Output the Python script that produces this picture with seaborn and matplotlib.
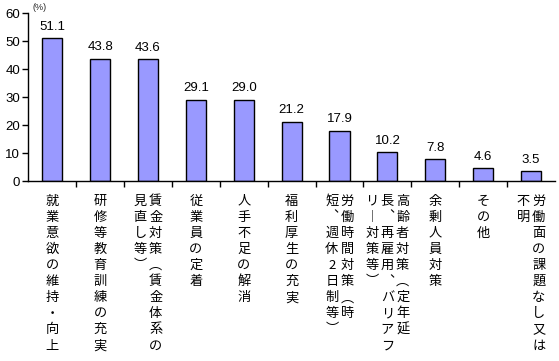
import matplotlib
matplotlib.use('Agg')
import matplotlib.pyplot as plt
import seaborn as sns
import pandas as pd

categories = [
    "就業意欲の維持・向上",
    "研修等教育訓練の充実",
    "賃金対策（賃金体系の見直し等）",
    "従業員の定着",
    "人手不足の解消",
    "福利厚生の充実",
    "労働時間対策（時短、週休2日制等）",
    "高齢者対策（定年延長、再雇用、バリアフリー対策等）",
    "余剰人員対策",
    "その他",
    "労働面の課題なし又は不明",
]
values = [51.1, 43.8, 43.6, 29.1, 29.0, 21.2, 17.9, 10.2, 7.8, 4.6, 3.5]
# vertical label columns, in reading order (right column first)
label_columns = [
    ["就業意欲の維持・向上"],
    ["研修等教育訓練の充実"],
    ["賃金対策︵賃金体系の", "見直し等︶"],
    ["従業員の定着"],
    ["人手不足の解消"],
    ["福利厚生の充実"],
    ["労働時間対策︵時", "短︑週休2日制等︶"],
    ["高齢者対策︵定年延", "長︑再雇用︑バリアフ", "リ︱対策等︶"],
    ["余剰人員対策"],
    ["その他"],
    ["労働面の課題なし又は", "不明"],
]
yticks = [0, 10, 20, 30, 40, 50, 60]
unit_label = "(%)"

sns.set_theme(style="white")
plt.rcParams["font.family"] = ["Noto Sans CJK JP", "DejaVu Sans"]
num_font = ["Liberation Sans", "DejaVu Sans"]

fig = plt.figure(figsize=(5.59, 3.61), dpi=100)
ax = fig.add_axes([0.0506, 0.4986, 0.9422, 0.4645])

df = pd.DataFrame({"cat": categories, "val": values})
sns.barplot(data=df, x="cat", y="val", color="#9999FF", saturation=1,
            edgecolor="black", linewidth=1, width=0.42, ax=ax)

ax.set_xlim(-0.5, len(categories) - 0.5)
ax.set_ylim(0, 60)
ax.set_yticks(yticks)
ax.set_yticklabels([str(t) for t in yticks], fontsize=9.5, color="black",
                   family=num_font)
ax.set_xticks([i + 0.5 for i in range(len(categories) - 1)])
ax.set_xticklabels([])
ax.tick_params(axis="both", direction="out", length=4, width=1, color="black",
               bottom=True, left=True)
ax.tick_params(axis="y", pad=2)
ax.set_xlabel("")
ax.set_ylabel("")
for s in ["top", "right"]:
    ax.spines[s].set_visible(False)
for s in ["left", "bottom"]:
    ax.spines[s].set_color("black")
    ax.spines[s].set_linewidth(1)

# value labels
for i, v in enumerate(values):
    ax.annotate(f"{v:.1f}", xy=(i, v), xytext=(0, 4), textcoords="offset points",
                ha="center", va="bottom", fontsize=9.5, color="black",
                family=num_font)

# vertical category labels
col_step = 11.0
row_step = 11.6
for i, cols in enumerate(label_columns):
    n = len(cols)
    for j, col in enumerate(cols):
        dx = ((n - 1) / 2 - j) * col_step
        for k, ch in enumerate(col):
            ax.annotate(ch, xy=(i, 0), xycoords="data",
                        xytext=(dx, -14.4 - k * row_step), textcoords="offset points",
                        ha="center", va="center", fontsize=9.5, color="black",
                        annotation_clip=False)

ax.annotate(unit_label, xy=(0, 1), xycoords="axes fraction", xytext=(3, 1),
            textcoords="offset points", ha="left", va="bottom", fontsize=6.5,
            family=num_font)

fig.savefig("out.png", dpi=100)
